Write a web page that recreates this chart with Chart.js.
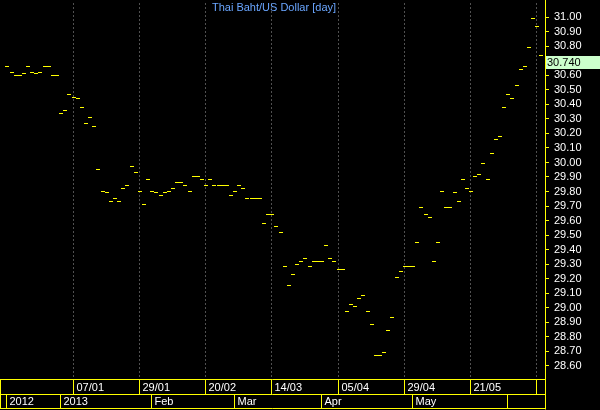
<!DOCTYPE html>
<html>
<head>
<meta charset="utf-8">
<script src="https://cdn.jsdelivr.net/npm/chart.js@4/dist/chart.umd.min.js"></script>
<style>
  body { margin: 0; background: #000; }
  #wrap { width: 600px; height: 410px; position: relative; background: #000; }
</style>
</head>
<body>
<div id="wrap"><canvas id="fxChart"></canvas></div>
<script>
// Kapanış değerleri (günlük), soldan sağa
const closes = [
  30.66, 30.62, 30.60, 30.60, 30.61, 30.66, 30.62, 30.61, 30.62, 30.66,
  30.66, 30.60, 30.60, 30.34, 30.36, 30.47, 30.45, 30.44, 30.38, 30.27,
  30.31, 30.25, 29.95, 29.80, 29.79, 29.73, 29.75, 29.73, 29.82, 29.84,
  29.97, 29.93, 29.80, 29.71, 29.88, 29.80, 29.79, 29.77, 29.79, 29.80,
  29.82, 29.86, 29.86, 29.84, 29.80, 29.90, 29.90, 29.88, 29.84, 29.88,
  29.84, 29.84, 29.84, 29.84, 29.77, 29.80, 29.84, 29.82, 29.75, 29.75,
  29.75, 29.75, 29.58, 29.64, 29.64, 29.56, 29.52, 29.28, 29.15, 29.23,
  29.30, 29.32, 29.34, 29.28, 29.32, 29.32, 29.32, 29.43, 29.34, 29.32,
  29.26, 29.26, 28.97, 29.02, 29.01, 29.06, 29.08, 28.97, 28.88, 28.67,
  28.67, 28.69, 28.84, 28.93, 29.21, 29.25, 29.28, 29.28, 29.28, 29.45,
  29.69, 29.64, 29.62, 29.32, 29.45, 29.80, 29.69, 29.69, 29.79, 29.73,
  29.88, 29.82, 29.80, 29.90, 29.92, 29.99, 29.88, 30.06, 30.16, 30.18,
  30.38, 30.47, 30.44, 30.53, 30.64, 30.66, 30.79, 30.99, 30.94, 30.74
];

// Üst satır: tarih etiketleri (bar indeksine göre)
const dayIdx = [16, 32, 48, 64, 80, 96, 112, 128];
const dayLabels = ['07/01', '29/01', '20/02', '14/03', '05/04', '29/04', '21/05', ''];

// Alt satır: ay / yıl etiketleri
const monthIdx = [0, 13, 35, 55, 76, 98, 121];
const monthLabels = ['2012', '2013', 'Feb', 'Mar', 'Apr', 'May', ''];

// Sağ eksen etiketleri
const yTicks = [28.6, 28.7, 28.8, 28.9, 29.0, 29.1, 29.2, 29.3, 29.4, 29.5, 29.6, 29.7,
  29.8, 29.9, 30.0, 30.1, 30.2, 30.3, 30.4, 30.5, 30.6, 30.7, 30.8, 30.9, 31.0];

const title = 'Thai Baht/US Dollar [day]';
const FONT = '11px "Liberation Sans", Arial, sans-serif';

// Noktaları piksele oturt (keskin çizgi için)
const snapPlugin = {
  id: 'snap',
  afterDatasetsUpdate(chart) {
    chart.getDatasetMeta(0).data.forEach(p => {
      p.x = Math.round(p.x - 0.5) + 1;
      p.y = Math.round(p.y - 0.5) + 0.5;
    });
  }
};

// Başlık, alt tarih kutuları ve son değer etiketi
const decorPlugin = {
  id: 'decor',
  afterDraw(chart) {
    const ctx = chart.ctx;
    const area = chart.chartArea;
    const xs = chart.scales.x;
    const ys = chart.scales.y;
    const right = area.right + 0.5;
    const px = i => Math.round(xs.getPixelForValue(i) - 0.5) + 0.5;

    ctx.save();
    ctx.font = FONT;

    // başlık
    ctx.fillStyle = '#6aa6ff';
    ctx.textAlign = 'center';
    ctx.textBaseline = 'middle';
    ctx.fillText(title, (area.left + area.right) / 2, 8);

    // kutu çizgileri
    const y1 = area.bottom + 0.5, y2 = y1 + 15, y3 = y2 + 14;
    ctx.strokeStyle = '#ffff00';
    ctx.lineWidth = 1;
    ctx.beginPath();
    [y1, y2, y3].forEach(y => { ctx.moveTo(0, y); ctx.lineTo(right, y); });
    ctx.moveTo(0.5, y1); ctx.lineTo(0.5, y3);
    ctx.moveTo(right, 0); ctx.lineTo(right, y3 + 1);
    dayIdx.forEach(i => { const x = px(i); ctx.moveTo(x, y1); ctx.lineTo(x, y2); });
    monthIdx.forEach(i => { const x = px(i); ctx.moveTo(x, y2); ctx.lineTo(x, y3); });
    ctx.stroke();

    // kutu etiketleri
    ctx.fillStyle = '#ffffff';
    ctx.textAlign = 'left';
    dayIdx.forEach((i, k) => ctx.fillText(dayLabels[k], px(i) + 3, (y1 + y2) / 2 + 0.5));
    monthIdx.forEach((i, k) => ctx.fillText(monthLabels[k], px(i) + 3, (y2 + y3) / 2 + 0.5));

    // son değer etiketi
    const last = closes[closes.length - 1];
    const top = Math.round(ys.getPixelForValue(last)) + 1;
    ctx.fillStyle = '#ccffcc';
    ctx.fillRect(Math.ceil(right), top, chart.width - Math.ceil(right), 13);
    ctx.fillStyle = '#000000';
    ctx.fillText(last.toFixed(3), Math.ceil(right) + 1, top + 7);
    ctx.restore();
  }
};

const noPad = s => { s.paddingTop = 0; s.paddingBottom = 0; s.paddingLeft = 0; s.paddingRight = 0; };

const ctx = document.getElementById('fxChart').getContext('2d');
new Chart(ctx, {
  type: 'scatter',
  data: {
    datasets: [{
      data: closes.map((v, i) => ({ x: i, y: v })),
      showLine: false,
      pointStyle: 'line',
      pointRadius: 2,
      pointHoverRadius: 2,
      pointBorderWidth: 1,
      pointBorderColor: '#ffff00',
      pointBackgroundColor: '#ffff00'
    }]
  },
  options: {
    responsive: true,
    maintainAspectRatio: false,
    animation: false,
    events: [],
    layout: { padding: 0 },
    plugins: {
      legend: { display: false },
      tooltip: { enabled: false }
    },
    scales: {
      x: {
        type: 'linear',
        min: -0.934,
        max: 129.98,
        afterBuildTicks: s => { s.ticks = dayIdx.map(v => ({ value: v })); },
        afterFit: s => { s.height = 31; noPad(s); },
        ticks: { display: false },
        grid: { color: '#505050', drawTicks: false, lineWidth: 1 },
        border: { display: false, dash: [2, 2] }
      },
      y: {
        position: 'right',
        min: 28.5077,
        max: 31.0991,
        afterBuildTicks: s => { s.ticks = yTicks.map(v => ({ value: v })); },
        afterFit: s => { s.width = 55; noPad(s); },
        ticks: {
          color: '#ffffff',
          autoSkip: false,
          font: { family: '"Liberation Sans", Arial, sans-serif', size: 11 },
          padding: 5,
          callback: v => Number(v).toFixed(2)
        },
        grid: { drawOnChartArea: false, drawTicks: true, tickLength: 4, color: '#ffff00' },
        border: { display: true, color: '#ffff00', width: 1 }
      }
    }
  },
  plugins: [snapPlugin, decorPlugin]
});
</script>
</body>
</html>
